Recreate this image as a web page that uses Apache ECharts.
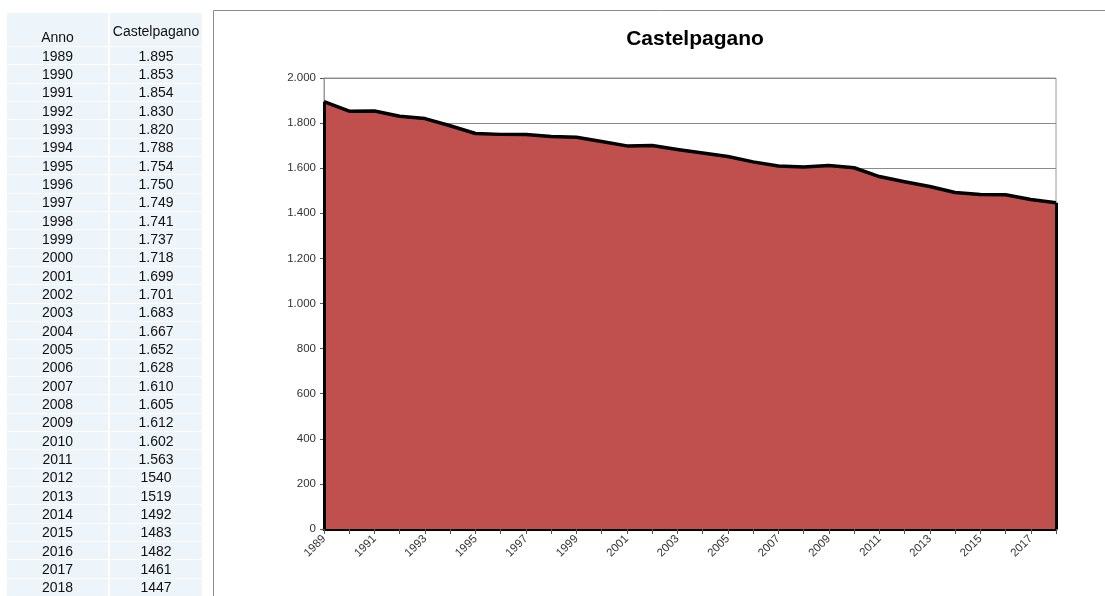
<!DOCTYPE html>
<html>
<head>
<meta charset="utf-8">
<script src="https://cdn.jsdelivr.net/npm/echarts@6/dist/echarts.min.js"></script>
<style>
  html, body { margin: 0; padding: 0; background: #fff; }
  #chart { position: absolute; left: 0; top: 0; width: 1105px; height: 596px; }
  #tbl { position: absolute; left: 7px; top: 13px; font-family: "Liberation Sans", Arial, sans-serif; font-size: 14px; color: #111; }
  .row { display: flex; }
  .cell { background: #edf4fa; border-bottom: 1px solid #fff; box-sizing: border-box; display: flex; justify-content: center; }
  .c1 { width: 101px; margin-right: 2px; }
  .c2 { width: 92px; }
  .head .cell { height: 34px; }
  .head .c1 { align-items: flex-end; padding-bottom: 1px; }
  .head .c2 { align-items: center; padding-top: 2px; }
  .data .cell { height: 18.34px; align-items: center; }
</style>
</head>
<body>
<div id="chart"></div>
<div id="tbl"></div>
<script>
// Resident population of Castelpagano, 1989-2018
const years = ['1989','1990','1991','1992','1993','1994','1995','1996','1997','1998',
               '1999','2000','2001','2002','2003','2004','2005','2006','2007','2008',
               '2009','2010','2011','2012','2013','2014','2015','2016','2017','2018'];
const population = [1895, 1853, 1854, 1830, 1820, 1788, 1754, 1750, 1749, 1741,
                    1737, 1718, 1699, 1701, 1683, 1667, 1652, 1628, 1610, 1605,
                    1612, 1602, 1563, 1540, 1519, 1492, 1483, 1482, 1461, 1447];
// Values as written in the table column (older rows use a thousands separator)
const tableText = ['1.895','1.853','1.854','1.830','1.820','1.788','1.754','1.750','1.749','1.741',
                   '1.737','1.718','1.699','1.701','1.683','1.667','1.652','1.628','1.610','1.605',
                   '1.612','1.602','1.563','1540','1519','1492','1483','1482','1461','1447'];
const seriesName = 'Castelpagano';
const yearHeader = 'Anno';

// Side table
const tbl = document.getElementById('tbl');
let html = '<div class="row head"><div class="cell c1">' + yearHeader + '</div><div class="cell c2">' + seriesName + '</div></div>';
years.forEach(function (y, i) {
  html += '<div class="row data"><div class="cell c1">' + y + '</div><div class="cell c2">' + tableText[i] + '</div></div>';
});
tbl.innerHTML = html;

function thousands(v) {
  return String(v).replace(/\B(?=(\d{3})+(?!\d))/g, '.');
}

const chart = echarts.init(document.getElementById('chart'), null, { renderer: 'canvas' });
const last = years.length - 1;
const edge = { lineStyle: { color: '#000', width: 3, type: 'solid' } };

chart.setOption({
  animation: false,
  textStyle: { fontFamily: 'Liberation Sans, Arial, sans-serif' },
  title: {
    text: seriesName,
    left: 690,
    top: 24,
    textAlign: 'center',
    textStyle: { fontSize: 21, fontWeight: 'bold', color: '#000', fontFamily: 'Liberation Sans, Arial, sans-serif' }
  },
  graphic: [
    { type: 'line', shape: { x1: 213.5, y1: 10.5, x2: 1105, y2: 10.5 }, style: { stroke: '#8c8c8c', lineWidth: 1 } },
    { type: 'line', shape: { x1: 213.5, y1: 10.5, x2: 213.5, y2: 596 }, style: { stroke: '#8c8c8c', lineWidth: 1 } }
  ],
  grid: {
    left: 324, right: 49, top: 78, bottom: 67,
    show: true, borderColor: '#9a9a9a', borderWidth: 1, backgroundColor: 'transparent'
  },
  xAxis: {
    type: 'category',
    data: years,
    boundaryGap: false,
    axisLine: { show: true, lineStyle: { color: '#000', width: 3 } },
    axisTick: { show: true, alignWithLabel: true, interval: 0, length: 5, lineStyle: { color: '#555' } },
    axisLabel: { interval: 1, rotate: 45, fontSize: 11.5, color: '#333', margin: 8 },
    splitLine: { show: false }
  },
  yAxis: {
    type: 'value',
    min: 0, max: 2000, interval: 200,
    axisLine: { show: true, lineStyle: { color: '#9a9a9a', width: 1 } },
    axisTick: { show: true, length: 4, lineStyle: { color: '#555' } },
    axisLabel: { fontSize: 11.5, color: '#333', margin: 8, formatter: thousands },
    splitLine: { show: true, lineStyle: { color: '#8a8a8a', width: 1 } }
  },
  series: [{
    name: seriesName,
    type: 'line',
    data: population,
    symbol: 'none',
    lineStyle: { color: '#000', width: 3.5, join: 'round' },
    areaStyle: { color: '#c0504d', opacity: 1 },
    markLine: {
      silent: true,
      symbol: 'none',
      label: { show: false },
      data: [
        [{ coord: [years[0], 0], ...edge }, { coord: [years[0], population[0]] }],
        [{ coord: [years[last], 0], ...edge }, { coord: [years[last], population[last]] }]
      ]
    }
  }]
});
</script>
</body>
</html>
